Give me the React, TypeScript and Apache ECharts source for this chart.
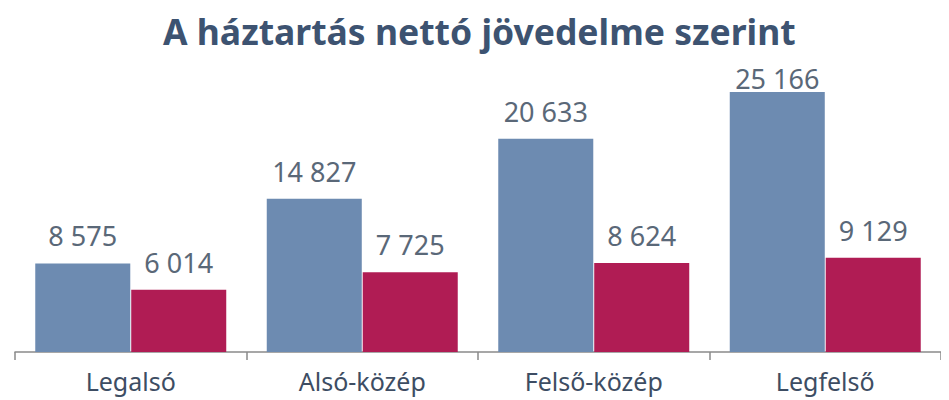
import React, { useEffect, useRef } from "react";
import * as echarts from "echarts";

const categories = ["Legalsó", "Alsó-közép", "Felső-közép", "Legfelső"];
const seriesA = [8575, 14827, 20633, 25166];
const seriesB = [6014, 7725, 8624, 9129];
const title = "A háztartás nettó jövedelme szerint";
const yMax = 30000;

const fmt = (v: number) => String(v).replace(/\B(?=(\d{3})+(?!\d))/g, " ");

export default function App() {
  const ref = useRef<HTMLDivElement>(null);
  useEffect(() => {
    if (!ref.current) return;
    const chart = echarts.init(ref.current, undefined, { renderer: "svg" });
    const font = "Noto Sans";
    const label = {
      show: true,
      position: "top" as const,
      distance: 14,
      color: "#5a6878",
      fontSize: 27,
      fontFamily: font,
      formatter: (p: any) => fmt(p.value),
    };
    // labels that would run into the title are pushed down onto the bar top
    const toItems = (arr: number[]) =>
      arr.map((v) => (v > yMax * 0.8 ? { value: v, label: { distance: 0 } } : v));
    chart.setOption({
      animation: false,
      title: {
        text: title,
        left: 155,
        top: 5,
        padding: 0,
        textStyle: { color: "#3d5371", fontSize: 35.5, fontWeight: "bold", fontFamily: font },
      },
      grid: { left: 7, right: -12, top: 34, bottom: 48 },
      xAxis: {
        type: "category",
        data: categories,
        axisLine: { lineStyle: { color: "#8a8a8a", width: 1.5 } },
        axisTick: { show: true, length: 8, lineStyle: { color: "#8a8a8a", width: 1.5 } },
        axisLabel: { color: "#3d4d63", fontSize: 25, fontFamily: font, margin: 16 },
      },
      yAxis: { type: "value", min: 0, max: yMax, show: false, splitLine: { show: false } },
      series: [
        { type: "bar", data: toItems(seriesA), itemStyle: { color: "#6d8bb1" }, barGap: "1%", barCategoryGap: "17.5%", label },
        { type: "bar", data: toItems(seriesB), itemStyle: { color: "#b01c54" }, label },
      ],
    });
    return () => chart.dispose();
  }, []);
  return <div ref={ref} style={{ width: 933, height: 392 }} />;
}
